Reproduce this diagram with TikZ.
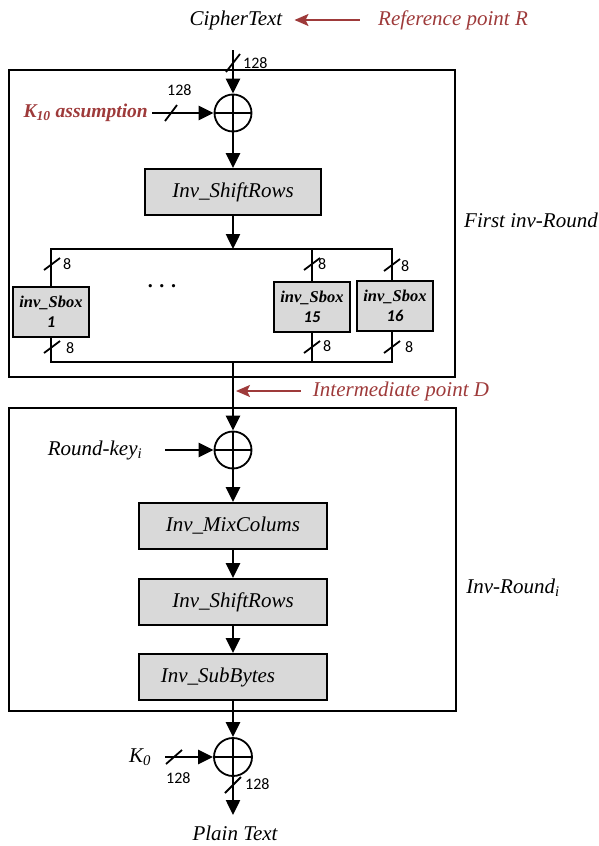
\documentclass[tikz,border=0pt]{standalone}
\usepackage{fontspec}
\setmainfont{Liberation Serif}
\newfontfamily\calib{Carlito}
\usetikzlibrary{arrows.meta}
\definecolor{darkred}{RGB}{158,58,58}
\definecolor{boxgray}{RGB}{217,217,217}
\newcommand\bslash[4]{\draw[slashl] ({#1-#3},{#2+#4}) -- ({#1+#3},{#2-#4});}
\tikzset{
  lbl/.style={font=\fontsize{21}{25}\selectfont\itshape, inner sep=0},
  main/.style={line width=2.5pt, -{Triangle[length=15pt,width=14pt]}},
  wire/.style={line width=2pt},
  func/.style={draw, line width=1.8pt, fill=boxgray, inner sep=0, minimum height=46pt,
    font=\fontsize{21}{25}\selectfont\itshape},
  sbox/.style={draw, line width=2pt, fill=boxgray, inner sep=0, minimum width=76pt,
    minimum height=50pt, align=center, font=\fontsize{16.5}{19}\selectfont\bfseries\itshape},
  roundbox/.style={draw, line width=1.5pt, inner sep=0},
  xorc/.style={circle, draw, line width=1.8pt, minimum size=37pt, inner sep=0,
    path picture={\draw[line width=1.8pt] (path picture bounding box.north) -- (path picture bounding box.south)
      (path picture bounding box.west) -- (path picture bounding box.east);}},
  redarr/.style={draw=darkred, line width=2pt, -{Stealth[length=14pt,width=12pt,inset=3pt]}},
  slashl/.style={line width=1.8pt},
  num/.style={font=\calib\fontsize{16}{18}\selectfont, inner sep=0, anchor=west},
}
\begin{document}
\begin{tikzpicture}[x=1pt,y=-1pt]
\useasboundingbox (0,0) rectangle (599,846);
% round boxes
\node[roundbox, minimum width=446pt, minimum height=307pt] (R1) at (232,223.5) {};
\node[roundbox, minimum width=447pt, minimum height=303pt] (R2) at (232.5,559.5) {};
\node[lbl] (l1) at (531,220) {First inv-Round};
\node[lbl] (l2) at (513,588) {Inv-Round\textsubscript{i}};
% top
\node[lbl] (ct) at (236,20) {CipherText};
\node[lbl, text=darkred] (refR) at (453,20) {Reference point R};
\draw[redarr] ([xshift=-18pt]refR.west) -- ([xshift=12pt]ct.east);
\coordinate (top) at (233,50);
\node[xorc] (x1) at (233,113) {};
\draw[main] (top) -- (x1.north);
\bslash{233}{63}{7}{9}
\node[num] (n1) at (243,63) {128};
\node[lbl, font=\fontsize{19.5}{24}\selectfont\bfseries\itshape, text=darkred, anchor=east] (k10) at (148,113) {K\textsubscript{10} assumption};
\coordinate (k10in) at (152,113);
\draw[main] (k10in) -- (x1.west);
\bslash{171}{113}{6}{8}
\node[num] (n2) at (167,90) {128};
% first round
\node[func, minimum width=176pt] (sr1) at (233,192) {Inv\_ShiftRows};
\draw[main] (x1.south) -- (sr1.north);
\coordinate (bt) at (233,249);
\draw[main] (sr1.south) -- (bt);
\node[sbox] (s1) at (51,312) {inv\_Sbox\\[1pt]{\calib\bfseries\itshape 1}};
\node[sbox, minimum height=50pt] (s15) at (312,307) {inv\_Sbox\\[1pt]{\calib\bfseries\itshape 15}};
\node[sbox, minimum height=50pt] (s16) at (395,306) {inv\_Sbox\\[1pt]{\calib\bfseries\itshape 16}};
\node[inner sep=0, font=\fontsize{20}{20}\selectfont\bfseries] (dots) at (162,286) {.\,\,.\,\,.};
\draw[wire] (s1.north) -- (s1.north |- bt) -- (392,249) -- (392,281);
\draw[wire] (s15.north) -- (s15.north |- bt);
\coordinate (bb) at (233,362);
\draw[wire] (s1.south) -- (s1.south |- bb) -- (392,362) -- (392,331);
\draw[wire] (s15.south) -- (s15.south |- bb);
\bslash{52}{264}{8}{6}
\bslash{312}{264}{8}{6}
\bslash{392}{265}{8}{6}
\bslash{52}{347}{8}{6}
\bslash{312}{347}{8}{6}
\bslash{392}{347}{8}{6}
\node[num] at (63,264) {8};
\node[num] at (318,264) {8};
\node[num] at (401,266) {8};
\node[num] at (66,348) {8};
\node[num] at (323,346) {8};
\node[num] at (405,347) {8};
% second round
\node[xorc] (x2) at (233,450) {};
\draw[main] (bb) -- (x2.north);
\node[lbl, text=darkred] (imD) at (401,391) {Intermediate point D};
\coordinate (Dp) at (236,391);
\draw[redarr] ([xshift=-12pt]imD.west) -- (Dp);
\node[lbl] (rk) at (95,450) {Round-key\textsubscript{i}};
\coordinate (rkin) at (165,450);
\draw[main] (rkin) -- (x2.west);
\node[func, minimum width=188pt] (mc) at (233,526) {Inv\_MixColums};
\node[func, minimum width=188pt] (sr2) at (233,602) {Inv\_ShiftRows};
\node[func, minimum width=188pt] (sb) at (233,677) {};
\node[font=\fontsize{21}{25}\selectfont\itshape, inner sep=0] (sbt) at (218,677) {Inv\_SubBytes};
\draw[main] (x2.south) -- (mc.north);
\draw[main] (mc.south) -- (sr2.north);
\draw[main] (sr2.south) -- (sb.north);
% final
\node[xorc, minimum size=38pt] (x3) at (233,757) {};
\draw[main] (sb.south) -- (x3.north);
\node[lbl] (k0) at (140,757) {K\textsubscript{0}};
\coordinate (k0in) at (165,757);
\draw[main] (k0in) -- (x3.west);
\bslash{174}{757}{8}{7}
\node[num] (n3) at (166,778) {128};
\coordinate (out) at (233,815);
\draw[main] (x3.south) -- (out);
\bslash{233}{785}{8}{8}
\node[num] (n4) at (245,784) {128};
\node[lbl] (pt) at (235,833) {Plain Text};
\end{tikzpicture}
\end{document}
